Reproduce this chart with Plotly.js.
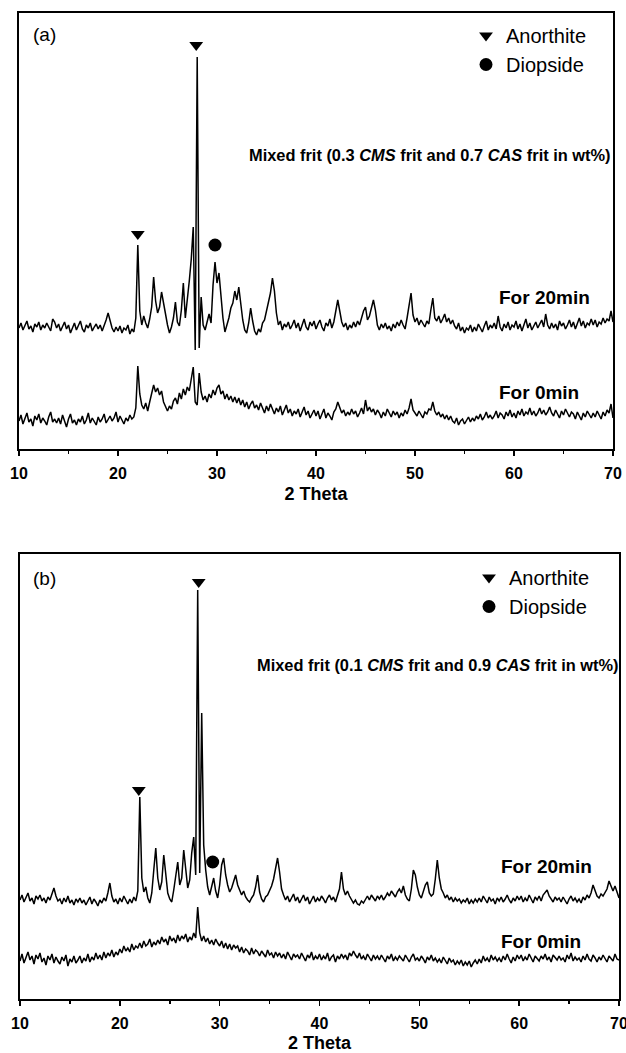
<!DOCTYPE html>
<html>
<head>
<meta charset="utf-8">
<script src="https://cdn.plot.ly/plotly-3.0.1.min.js"></script>
<style>html,body{margin:0;padding:0;background:#fff;}#chart{width:626px;height:1053px;}</style>
</head>
<body>
<div id="chart"></div>
<script>
// 2-theta scan grid (degrees)
const twoTheta = [
10.0,10.2,10.4,10.6,10.8,11.0,11.2,11.4,11.6,11.8,
12.0,12.2,12.4,12.6,12.8,13.0,13.2,13.4,13.6,13.8,
14.0,14.2,14.4,14.6,14.8,15.0,15.2,15.4,15.6,15.8,
16.0,16.2,16.4,16.6,16.8,17.0,17.2,17.4,17.6,17.8,
18.0,18.2,18.4,18.6,18.8,19.0,19.2,19.4,19.6,19.8,
20.0,20.2,20.4,20.6,20.8,21.0,21.2,21.4,21.6,21.8,
22.0,22.2,22.4,22.6,22.8,23.0,23.2,23.4,23.6,23.8,
24.0,24.2,24.4,24.6,24.8,25.0,25.2,25.4,25.6,25.8,
26.0,26.2,26.4,26.6,26.8,27.0,27.2,27.4,27.6,27.8,
28.0,28.2,28.4,28.6,28.8,29.0,29.2,29.4,29.6,29.8,
30.0,30.2,30.4,30.6,30.8,31.0,31.2,31.4,31.6,31.8,
32.0,32.2,32.4,32.6,32.8,33.0,33.2,33.4,33.6,33.8,
34.0,34.2,34.4,34.6,34.8,35.0,35.2,35.4,35.6,35.8,
36.0,36.2,36.4,36.6,36.8,37.0,37.2,37.4,37.6,37.8,
38.0,38.2,38.4,38.6,38.8,39.0,39.2,39.4,39.6,39.8,
40.0,40.2,40.4,40.6,40.8,41.0,41.2,41.4,41.6,41.8,
42.0,42.2,42.4,42.6,42.8,43.0,43.2,43.4,43.6,43.8,
44.0,44.2,44.4,44.6,44.8,45.0,45.2,45.4,45.6,45.8,
46.0,46.2,46.4,46.6,46.8,47.0,47.2,47.4,47.6,47.8,
48.0,48.2,48.4,48.6,48.8,49.0,49.2,49.4,49.6,49.8,
50.0,50.2,50.4,50.6,50.8,51.0,51.2,51.4,51.6,51.8,
52.0,52.2,52.4,52.6,52.8,53.0,53.2,53.4,53.6,53.8,
54.0,54.2,54.4,54.6,54.8,55.0,55.2,55.4,55.6,55.8,
56.0,56.2,56.4,56.6,56.8,57.0,57.2,57.4,57.6,57.8,
58.0,58.2,58.4,58.6,58.8,59.0,59.2,59.4,59.6,59.8,
60.0,60.2,60.4,60.6,60.8,61.0,61.2,61.4,61.6,61.8,
62.0,62.2,62.4,62.6,62.8,63.0,63.2,63.4,63.6,63.8,
64.0,64.2,64.4,64.6,64.8,65.0,65.2,65.4,65.6,65.8,
66.0,66.2,66.4,66.6,66.8,67.0,67.2,67.4,67.6,67.8,
68.0,68.2,68.4,68.6,68.8,69.0,69.2,69.4,69.6,69.8,
70.0];

// (a) 0.3 CMS + 0.7 CAS, intensity (a.u., offset as plotted)
const a20min = [
121,126,119,124,128,120,123,117,125,122,
127,119,124,121,126,122,118,130,127,121,
125,118,123,127,120,124,116,122,126,119,
123,128,120,117,124,121,126,118,122,125,
120,124,118,123,129,136,127,121,117,122,
118,123,116,121,119,124,115,120,117,131,
204,138,124,133,126,121,130,142,172,148,
136,142,157,146,133,124,116,122,131,147,
127,123,139,166,131,148,168,190,222,99,
392,101,152,124,119,127,135,126,164,187,
166,176,149,131,117,123,131,141,146,158,
149,162,143,129,119,116,126,141,128,118,
114,120,117,126,129,138,146,156,171,158,
136,124,128,119,125,122,127,120,124,129,
121,126,118,124,130,122,119,127,123,128,
120,125,129,122,118,126,123,130,121,127,
137,149,138,127,122,126,119,124,121,127,
122,128,124,131,138,142,129,133,140,149,
139,124,119,125,121,126,120,123,118,125,
121,127,123,129,124,120,131,146,156,134,
127,131,124,129,126,122,128,125,139,151,
131,128,133,126,130,135,127,131,125,129,
123,120,126,118,122,116,121,119,124,117,
122,118,125,120,117,123,128,119,124,121,
126,120,133,122,118,125,121,127,119,124,
122,128,120,125,118,124,130,121,126,119,
123,127,121,125,129,122,135,124,120,126,
121,125,119,128,123,126,120,124,129,122,
127,120,125,131,123,128,121,126,124,130,
124,129,122,127,125,131,126,130,128,138,
127];

const a0min = [
28,34,25,31,36,27,30,23,33,29,
35,26,31,28,24,32,37,27,30,26,
31,25,34,28,22,30,35,26,29,24,
30,27,33,25,29,36,26,31,28,24,
32,27,30,35,26,29,33,28,31,37,
27,33,29,25,31,28,34,30,32,41,
83,55,44,40,46,38,47,56,64,57,
61,54,58,47,42,38,43,40,48,51,
45,56,50,60,54,62,58,71,82,47,
44,76,57,49,53,47,55,51,59,54,
61,64,55,58,50,55,49,53,47,52,
46,51,44,49,42,47,40,45,48,41,
44,39,46,41,36,43,38,45,40,35,
41,37,43,34,39,44,36,40,33,38,
35,40,32,37,42,34,38,31,36,39,
33,38,30,35,40,31,36,33,29,37,
40,47,41,36,39,33,37,34,40,35,
38,32,36,41,35,49,38,42,37,40,
34,39,36,31,37,33,40,35,32,38,
34,37,31,36,33,39,35,41,50,39,
36,33,38,34,31,37,35,40,39,47,
38,34,37,32,35,30,34,29,33,28,
26,31,24,28,30,25,29,32,27,31,
28,33,30,35,29,32,37,31,34,30,
33,38,31,36,34,30,37,33,39,32,
36,31,38,34,40,33,37,35,41,34,
38,33,36,41,35,39,34,37,42,36,
33,39,35,31,38,34,40,36,32,37,
35,30,37,33,29,36,32,38,34,31,
36,32,38,34,30,37,33,39,36,45,
31];

// (b) 0.1 CMS + 0.9 CAS, intensity (a.u., offset as plotted)
const b20min = [
99,104,97,102,106,98,101,95,103,100,
104,98,101,96,102,99,105,111,103,98,
100,95,101,97,103,96,99,94,100,97,
101,96,99,94,98,102,95,100,97,93,
99,96,101,98,106,116,103,97,100,95,
101,97,103,99,95,100,96,102,98,108,
202,121,107,112,101,96,106,129,151,121,
109,117,144,125,106,100,97,109,124,137,
114,121,149,128,111,119,146,162,124,409,
126,286,154,129,112,104,114,121,108,101,
114,134,141,124,114,107,111,118,124,114,
109,104,108,102,99,97,101,104,112,124,
107,100,97,102,104,108,113,120,131,141,
127,110,104,99,103,97,101,105,98,102,
96,101,104,98,102,95,100,103,97,101,
98,103,100,96,101,104,99,102,97,105,
110,127,110,104,108,103,100,96,99,95,
94,98,96,100,103,99,104,101,98,103,
100,104,99,102,106,103,108,105,102,107,
110,106,113,104,100,98,110,129,124,112,
104,101,108,114,117,106,103,105,120,139,
121,110,106,101,104,99,102,97,101,98,
100,96,99,97,101,95,99,96,100,97,
101,97,103,99,96,102,98,100,95,101,
98,102,97,100,104,99,96,101,98,103,
99,103,97,101,98,104,100,96,102,99,
103,98,104,107,109,103,100,97,102,99,
101,97,102,99,95,100,103,98,101,97,
100,96,102,99,104,101,106,114,108,103,
101,105,103,107,110,118,112,108,113,106,
101];

const b0min = [
38,45,36,42,47,39,43,35,44,40,
46,37,41,34,43,39,45,36,42,38,
35,42,38,44,33,40,37,43,36,39,
43,36,41,38,45,37,42,39,46,40,
44,39,47,41,46,43,49,42,47,44,
50,46,53,48,51,47,55,49,53,51,
56,51,58,53,55,60,52,57,54,59,
55,62,57,60,54,63,58,61,56,64,
58,63,60,65,57,62,59,66,61,92,
66,58,63,57,61,55,59,54,60,56,
53,58,51,56,50,55,49,54,51,53,
47,52,46,50,48,44,51,45,49,47,
43,48,45,42,49,44,46,41,47,43,
46,41,45,40,47,43,39,45,42,44,
40,46,42,38,44,41,47,39,43,40,
45,39,43,40,46,38,42,44,37,43,
40,45,41,44,39,46,43,48,44,41,
46,40,43,39,45,41,38,44,40,43,
39,44,41,37,43,40,45,38,42,39,
43,40,38,44,41,37,42,45,39,41,
38,43,40,36,42,39,44,38,41,37,
40,36,42,38,35,41,37,39,34,38,
35,39,33,37,34,38,32,36,39,35,
40,36,43,38,41,37,44,39,42,38,
41,37,43,39,45,40,36,42,38,44,
40,44,38,42,39,45,41,37,43,40,
38,43,40,45,39,42,37,44,41,39,
43,39,41,37,44,40,46,38,42,39,
41,37,43,39,45,40,38,44,41,37,
42,39,44,40,37,43,41,38,45,40,
39];

// Phase markers (2-theta, marker height in a.u.)
const anorthiteA_x = [22.0, 27.9];
const anorthiteA_y = [215, 404];
const diopsideA_x = [29.8];
const diopsideA_y = [204];
const anorthiteB_x = [21.9, 27.9];
const anorthiteB_y = [209, 417];
const diopsideB_x = [29.3];
const diopsideB_y = [137];

const xTickVals = [10, 20, 30, 40, 50, 60, 70];
const xMinorTickVals = [15, 25, 35, 45, 55, 65];
const labelA = 'Mixed frit (0.3 <i>CMS</i> frit and 0.7 <i>CAS</i> frit in wt%)';
const labelB = 'Mixed frit (0.1 <i>CMS</i> frit and 0.9 <i>CAS</i> frit in wt%)';

const FONT = 'Liberation Sans, Arial, Helvetica, sans-serif';
const W = 626, H = 1053;
const px = v => v / W;
const py = v => 1 - v / H;

function lineTrace(y, xa, ya, name) {
  return {x: twoTheta, y: y, xaxis: xa, yaxis: ya, mode: 'lines', name: name,
          line: {color: '#000', width: 1.5}, showlegend: false, hoverinfo: 'skip'};
}
function markTrace(x, y, xa, ya, sym, size, name, leg, grp) {
  return {x: x, y: y, xaxis: xa, yaxis: ya, mode: 'markers', name: name,
          marker: {symbol: sym, size: size, color: '#000', line: {width: 0}},
          legend: leg, legendgroup: grp, showlegend: true};
}

const data = [
  lineTrace(a20min, 'x', 'y', 'For 20min (a)'),
  lineTrace(a0min, 'x', 'y', 'For 0min (a)'),
  lineTrace(b20min, 'x2', 'y2', 'For 20min (b)'),
  lineTrace(b0min, 'x2', 'y2', 'For 0min (b)'),
  markTrace(anorthiteA_x, anorthiteA_y, 'x', 'y', 'triangle-down', 12, 'Anorthite', 'legend', 'an'),
  markTrace(diopsideA_x, diopsideA_y, 'x', 'y', 'circle', 13, 'Diopside', 'legend', 'di'),
  markTrace(anorthiteB_x, anorthiteB_y, 'x2', 'y2', 'triangle-down', 12, 'Anorthite', 'legend2', 'an2'),
  markTrace(diopsideB_x, diopsideB_y, 'x2', 'y2', 'circle', 13, 'Diopside', 'legend2', 'di2')
];

function xAxis(domain, anchor) {
  return {
    domain: domain, anchor: anchor, range: [10, 70],
    tickmode: 'array', tickvals: xTickVals,
    ticks: 'outside', ticklen: 5, tickwidth: 1.5, tickcolor: '#000',
    minor: {tickmode: 'array', tickvals: xMinorTickVals, ticks: 'outside', ticklen: 3, tickwidth: 1.5, tickcolor: '#000', showgrid: false},
    showline: true, linewidth: 2, linecolor: '#000', mirror: true,
    showgrid: false, zeroline: false,
    tickfont: {family: FONT, size: 16, weight: 'bold', color: '#000'},
    ticklabelstandoff: 4, ticklabeloverflow: 'allow',
    title: {text: '2 Theta', font: {family: FONT, size: 18, weight: 'bold', color: '#000'}, standoff: 6}
  };
}
function yAxis(domain, anchor, range) {
  return {
    domain: domain, anchor: anchor, range: range,
    showline: true, linewidth: 2, linecolor: '#000', mirror: true,
    showticklabels: false, ticks: '', showgrid: false, zeroline: false
  };
}
function legendAt(x, y) {
  return {x: x, y: y, xanchor: 'left', yanchor: 'top', bgcolor: 'rgba(0,0,0,0)',
          font: {family: FONT, size: 20, color: '#000'}, tracegroupgap: 0, itemsizing: 'trace'};
}
function ann(x, y, text, size, xanchor) {
  return {xref: 'paper', yref: 'paper', x: x, y: y, text: text, showarrow: false,
          xanchor: xanchor, yanchor: 'middle', font: {family: FONT, size: size, color: '#000'}};
}

const layout = {
  width: W, height: H, autosize: false,
  margin: {l: 0, r: 0, t: 0, b: 0},
  paper_bgcolor: '#fff', plot_bgcolor: '#fff',
  font: {family: FONT, color: '#000'},
  xaxis: xAxis([px(19), px(613)], 'y'),
  yaxis: yAxis([py(449), py(13)], 'x', [0, 436]),
  xaxis2: xAxis([px(20), px(619)], 'y2'),
  yaxis2: yAxis([py(999), py(554)], 'x2', [0, 445]),
  legend: legendAt(px(466), py(16)),
  legend2: legendAt(px(469), py(558)),
  annotations: [
    ann(px(31), py(35), '(a)', 19, 'left'),
    ann(px(613), py(155), '<b>' + labelA + '</b>', 16.4, 'right'),
    ann(px(497), py(297), '<b>For 20min</b>', 19, 'left'),
    ann(px(497), py(393), '<b>For 0min</b>', 19, 'left'),
    ann(px(31), py(578), '(b)', 19, 'left'),
    ann(px(621), py(665), '<b>' + labelB + '</b>', 16.4, 'right'),
    ann(px(499), py(866), '<b>For 20min</b>', 19, 'left'),
    ann(px(499), py(941), '<b>For 0min</b>', 19, 'left')
  ]
};

Plotly.newPlot('chart', data, layout, {displayModeBar: false, staticPlot: true});
</script>
</body>
</html>
